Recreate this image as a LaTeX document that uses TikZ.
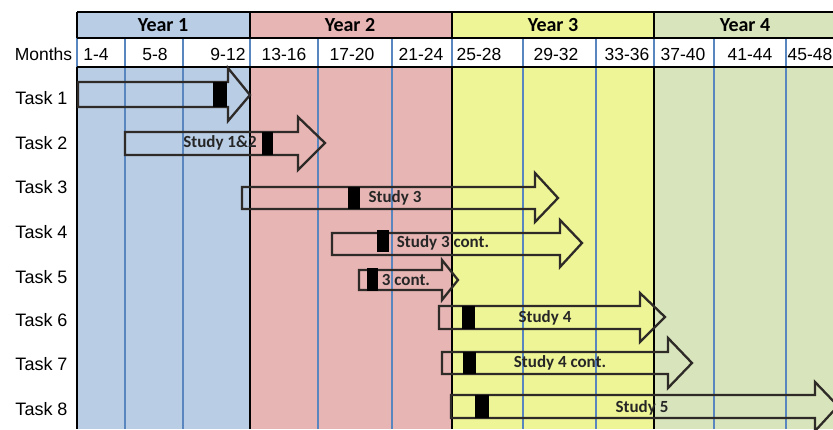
\documentclass[tikz,border=0pt]{standalone}
\usepackage{fontspec}
\setmainfont{Liberation Sans}
\newfontfamily\calib{Carlito}
\definecolor{yblue}{HTML}{B9CDE5}
\definecolor{ypink}{HTML}{E6B5B4}
\definecolor{yyellow}{HTML}{EEF596}
\definecolor{ygreen}{HTML}{D8E4BC}
\definecolor{gridblue}{HTML}{5A86C0}
\definecolor{arrowc}{HTML}{2E2A28}
\begin{document}
\begin{tikzpicture}[x=1pt,y=-1pt,
  yearlbl/.style={font=\calib\bfseries\fontsize{20}{20}\selectfont, inner sep=0pt},
  monthlbl/.style={font=\fontsize{17.5}{17.5}\selectfont, inner sep=0pt},
  tasklbl/.style={font=\fontsize{18}{18}\selectfont, inner sep=0pt},
  barlbl/.style={font=\calib\bfseries\fontsize{17}{17}\selectfont, inner sep=0pt, text=black!85},
  gridline/.style={draw=gridblue, line width=1.8pt},
  yearline/.style={draw=black, line width=2.6pt},
  blockarrow/.style={draw=arrowc, line width=2.3pt, line join=miter},
  marker/.style={fill=black, draw=none}
]
\useasboundingbox (0,0) rectangle (833,429);
\begin{scope}
\clip (0,0) rectangle (833,429);
% backgrounds
\fill[yblue]   (77,12) rectangle (250,429);
\fill[ypink]   (250,12) rectangle (452,429);
\fill[yyellow] (452,12) rectangle (654,429);
\fill[ygreen]  (654,12) rectangle (840,429);
\fill[white]   (77,38) rectangle (840,67);
% grid lines
\foreach \x in {77,125,183,250,318,392,452,523,596,654,714,786}
  \draw[gridline] (\x,38) -- (\x,429);
% year lines
\foreach \x in {77,250,452,654}{
  \draw[yearline] (\x,12) -- (\x,38);
  \draw[yearline] (\x,67) -- (\x,429);
}
\draw[yearline] (77,12) -- (840,12);
\draw[yearline] (77,38) -- (840,38);
\draw[yearline] (77,67) -- (840,67);

% year labels
\node[yearlbl] (y1) at (163,25) {Year 1};
\node[yearlbl] (y2) at (350,25) {Year 2};
\node[yearlbl] (y3) at (553,25) {Year 3};
\node[yearlbl] (y4) at (745,25) {Year 4};

% month labels
\node[monthlbl] (mlab) at (43.5,54) {Months};
\node[monthlbl] (m1) at (96,54) {1-4};
\node[monthlbl] (m2) at (155,54) {5-8};
\node[monthlbl] (m3) at (228,54) {9-12};
\node[monthlbl] (m4) at (284,54) {13-16};
\node[monthlbl] (m5) at (352,54) {17-20};
\node[monthlbl] (m6) at (421,54) {21-24};
\node[monthlbl] (m7) at (479,54) {25-28};
\node[monthlbl] (m8) at (556,54) {29-32};
\node[monthlbl] (m9) at (627,54) {33-36};
\node[monthlbl] (m10) at (683,54) {37-40};
\node[monthlbl] (m11) at (750,54) {41-44};
\node[monthlbl] (m12) at (810,54) {45-48};

% task labels
\node[tasklbl] (t1) at (41.5,98) {Task 1};
\node[tasklbl] (t2) at (41.5,143) {Task 2};
\node[tasklbl] (t3) at (41.5,187.5) {Task 3};
\node[tasklbl] (t4) at (41.5,232.5) {Task 4};
\node[tasklbl] (t5) at (41.5,277) {Task 5};
\node[tasklbl] (t6) at (41.5,320.5) {Task 6};
\node[tasklbl] (t7) at (41.5,364.5) {Task 7};
\node[tasklbl] (t8) at (41.5,409.5) {Task 8};

% block arrows
% Task 1
\draw[blockarrow] (78,82) -- (228,82) -- (228,68) -- (250,95) -- (228,121) -- (228,107) -- (78,107) -- cycle;
\fill[marker] (213,82) rectangle (227,107);
% Task 2
\draw[blockarrow] (125,132) -- (298,132) -- (298,117) -- (325,143) -- (298,170) -- (298,155) -- (125,155) -- cycle;
\fill[marker] (262,132) rectangle (273,155);
\node[barlbl] (s12) at (220,143) {Study 1\&2};
% Task 3
\draw[blockarrow] (242,187) -- (535,187) -- (535,173) -- (558,198) -- (535,222) -- (535,209) -- (242,209) -- cycle;
\fill[marker] (348,187) rectangle (360,209);
\node[barlbl] (s3) at (395,198) {Study 3};
% Task 4
\draw[blockarrow] (332,233) -- (560,233) -- (560,220) -- (582,243) -- (560,267) -- (560,255) -- (332,255) -- cycle;
\fill[marker] (377,230) rectangle (389,252);
\node[barlbl] (s3c) at (443,243) {Study 3 cont.};
% Task 5
\draw[blockarrow] (359,270) -- (442,270) -- (442,260) -- (458,280) -- (442,300) -- (442,290) -- (359,290) -- cycle;
\fill[marker] (367,268) rectangle (378,291);
\node[barlbl] (s3c2) at (406,280) {3 cont.};
% Task 6
\draw[blockarrow] (439,306) -- (640,306) -- (640,293) -- (665,317) -- (640,342) -- (640,329) -- (439,329) -- cycle;
\fill[marker] (462,306) rectangle (475,329);
\node[barlbl] (s4) at (545,318) {Study 4};
% Task 7
\draw[blockarrow] (442,352) -- (668,352) -- (668,338) -- (692,363) -- (668,388) -- (668,374) -- (442,374) -- cycle;
\fill[marker] (463,352) rectangle (476,374);
\node[barlbl] (s4c) at (560,363) {Study 4 cont.};
% Task 8
\draw[blockarrow] (451,395) -- (815,395) -- (815,382) -- (838,406) -- (815,431) -- (815,418) -- (451,418) -- cycle;
\fill[marker] (475,395) rectangle (489,418);
\node[barlbl] (s5) at (642,408) {Study 5};
\end{scope}
\end{tikzpicture}
\end{document}
